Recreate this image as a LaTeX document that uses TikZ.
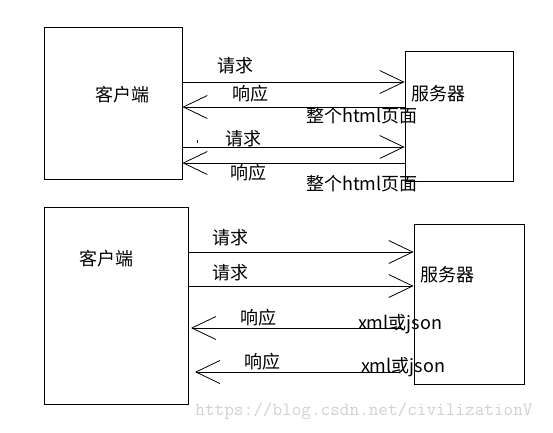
\documentclass[tikz,border=0pt]{standalone}
\usepackage{fontspec}
\setmainfont{Noto Sans CJK SC}
\usetikzlibrary{arrows.meta}

\tikzset{
  box/.style={draw, line width=0.8pt, inner sep=0pt},
  msg/.style={line width=0.8pt, -{Straight Barb[length=24pt,width=23pt,line width=0.8pt]}},
  lbl/.style={font=\fontsize{18}{20}\selectfont, inner sep=0pt}
}

\begin{document}
\begin{tikzpicture}[x=1pt, y=-1pt]
    \useasboundingbox (0,0) rectangle (553,432);

    % Upper exchange: client / server (whole html page)
    \node[box, minimum width=138pt, minimum height=152pt] (cli1) at (113,103) {};
    \node[box, minimum width=108pt, minimum height=130pt] (srv1) at (459,116) {};
    \node[lbl] (cliname1) at (122,95) {客户端};
    \node[lbl] (srvname1) at (438,94) {服务器};
    % Requests (left to right)
    \foreach \y/\x/\ly [count=\i] in {82/235/66, 147/243/139} {
      \draw[msg] (cli1.east |- 0,\y) -- (srv1.west |- 0,\y);
      \node[lbl] (req\i) at (\x,\ly) {请求};
    }
    % Responses (right to left)
    \foreach \y/\x/\ly/\py [count=\i] in {107/250/94/116, 163/248/173/184} {
      \draw[msg] (srv1.west |- 0,\y) -- (cli1.east |- 0,\y);
      \node[lbl] (resp\i) at (\x,\ly) {响应};
      \node[lbl] (page\i) at (362,\py) {整个html页面};
    }
    % stray tick
    \draw[line width=0.8pt] (197,140) -- (197,143);

    % Lower exchange: client / server (xml or json)
    \node[box, minimum width=144pt, minimum height=197pt] (cli2) at (116,305.5) {};
    \node[box, minimum width=110pt, minimum height=160pt] (srv2) at (469,304) {};
    \node[lbl] (cliname2) at (106,259) {客户端};
    \node[lbl] (srvname2) at (447,275) {服务器};
    % Requests
    \foreach \y/\ly [count=\i] in {252/238, 286/273} {
      \draw[msg] (cli2.east |- 0,\y) -- (srv2.west |- 0,\y);
      \node[lbl] (req2\i) at (230,\ly) {请求};
    }
    % Responses (free ends, short of both boxes)
    \coordinate (from1) at (403,328);
    \coordinate (to1) at (191,328);
    \coordinate (from2) at (400,372);
    \coordinate (to2) at (195,372);
    \foreach \x/\ly/\dx/\dy [count=\i] in {258/318/400/324, 262/362/403/367} {
      \draw[msg] (from\i) -- (to\i);
      \node[lbl] (resp2\i) at (\x,\ly) {响应};
      \node[lbl] (data\i) at (\dx,\dy) {xml或json};
    }

    % Watermark
    \node[font=\ttfamily\fontsize{18.7}{20}\selectfont, text=black!18, inner sep=0pt]
      (mark) at (364,411) {https://blog.csdn.net/civilizationV};
\end{tikzpicture}
\end{document}
